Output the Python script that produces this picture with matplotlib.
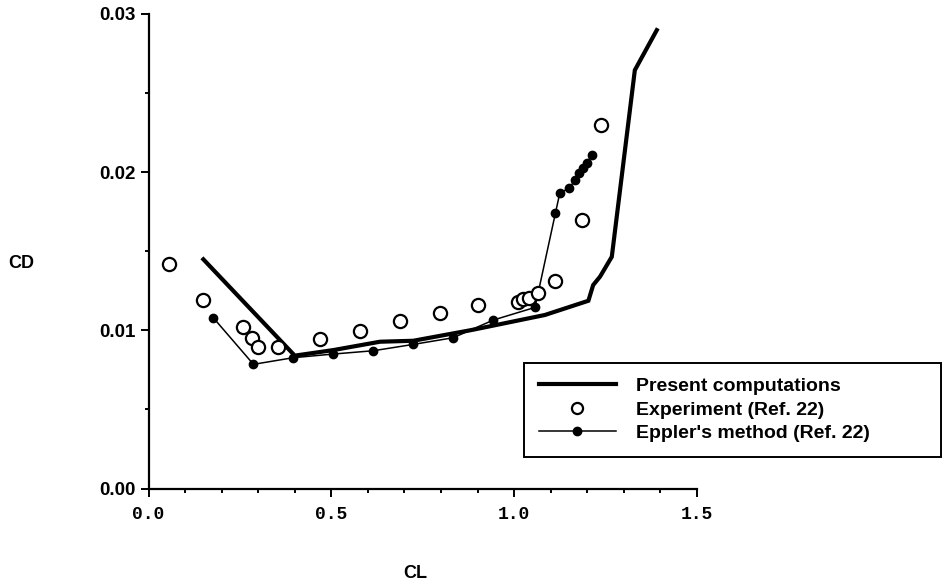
import matplotlib
matplotlib.use("Agg")
from matplotlib import pyplot as plt
from matplotlib.ticker import MultipleLocator, FixedLocator
from matplotlib.lines import Line2D

# present computations (thick line)
cl_present = [0.150, 0.400, 0.505, 0.633, 0.724, 0.879, 0.907, 1.084, 1.203, 1.216, 1.235, 1.267, 1.330, 1.390]
cd_present = [0.01449, 0.00840, 0.00875, 0.00928, 0.00934, 0.01000, 0.01013, 0.01097, 0.01187, 0.01286, 0.01340, 0.01465, 0.02645, 0.02898]

# experiment (Ref. 22), open circles
cl_exp = [0.057, 0.150, 0.259, 0.282, 0.300, 0.353, 0.469, 0.578, 0.688, 0.797, 0.902,
          1.011, 1.025, 1.041, 1.066, 1.112, 1.185, 1.237]
cd_exp = [0.01419, 0.01192, 0.01023, 0.00949, 0.00896, 0.00896, 0.00945, 0.00996, 0.01059, 0.01107, 0.01160,
          0.01180, 0.01196, 0.01202, 0.01238, 0.01312, 0.01697, 0.02298]

# Eppler's method (Ref. 22), dots joined by thin line
cl_eppler = [0.177, 0.287, 0.396, 0.505, 0.615, 0.724, 0.833, 0.943, 1.057,
             1.113, 1.125, 1.151, 1.166, 1.178, 1.189, 1.198, 1.212]
cd_eppler = [0.01080, 0.00785, 0.00827, 0.00850, 0.00871, 0.00911, 0.00953, 0.01065, 0.01145,
             0.01743, 0.01870, 0.01898, 0.01950, 0.01992, 0.02024, 0.02056, 0.02108]

xticks = [0.0, 0.5, 1.0, 1.5]
xticklabels = ["0.0", "0.5", "1.0", "1.5"]
yticks = [0.00, 0.01, 0.02, 0.03]
yticklabels = ["0.00", "0.01", "0.02", "0.03"]

fig = plt.figure(figsize=(9.43, 5.85), dpi=100)
ax = fig.add_axes([148.5/943, 1-488.5/585, (697-148.5)/943, (488.5-14)/585])

ax.plot(cl_present, cd_present, color="black", lw=3.0, solid_joinstyle="miter", clip_on=False)
ax.plot(cl_eppler, cd_eppler, color="black", lw=1.1, marker="o", ms=6, clip_on=False)
ax.plot(cl_exp, cd_exp, ls="none", marker="o", ms=9.5, mfc="white", mec="black", mew=1.6, clip_on=False)

ax.set_xlim(0, 1.5)
ax.set_ylim(0, 0.03)
ax.spines["top"].set_visible(False)
ax.spines["right"].set_visible(False)
ax.spines["left"].set_linewidth(1.6)
ax.spines["bottom"].set_linewidth(1.6)

ax.xaxis.set_major_locator(FixedLocator(xticks))
ax.xaxis.set_minor_locator(MultipleLocator(0.1))
ax.yaxis.set_major_locator(FixedLocator(yticks))
ax.yaxis.set_minor_locator(MultipleLocator(0.005))
ax.set_xticklabels(xticklabels, family="Liberation Mono", fontweight="bold", fontsize=13)
ax.set_yticklabels(yticklabels, family="Liberation Sans", fontweight="bold", fontsize=13.5)
ax.tick_params(which="major", direction="out", length=5.5, width=1.4)
ax.tick_params(which="minor", direction="out", length=3, width=1.4)
ax.tick_params(axis="x", which="major", pad=7)
ax.tick_params(axis="y", which="major", pad=4)

fig.text(21.5/943, 1-263/585, "CD", family="Liberation Sans", fontweight="bold",
         fontsize=13, ha="center", va="center")
fig.text(415.5/943, 1-573/585, "CL", family="Liberation Sans", fontweight="bold",
         fontsize=13, ha="center", va="center")

handles = [
    Line2D([], [], color="black", lw=3.0),
    Line2D([], [], ls="none", marker="o", ms=8, mfc="white", mec="black", mew=1.6),
    Line2D([], [], color="black", lw=1.1, marker="o", ms=6),
]
labels = ["Present computations", "Experiment (Ref. 22)", "Eppler's method (Ref. 22)"]
leg = fig.legend(handles, labels, loc="upper left",
                 bbox_to_anchor=(524/943, 1-457/585, (941-524)/943, (457-363)/585),
                 mode="expand", frameon=True, fancybox=False, framealpha=1,
                 handlelength=4.0, handletextpad=1.0, borderaxespad=0,
                 borderpad=0.75, labelspacing=0.3,
                 prop={"family": "Liberation Sans", "weight": "bold", "size": 14})
leg.get_frame().set_edgecolor("black")
leg.get_frame().set_linewidth(1.4)

fig.savefig("out.png", dpi=100)
